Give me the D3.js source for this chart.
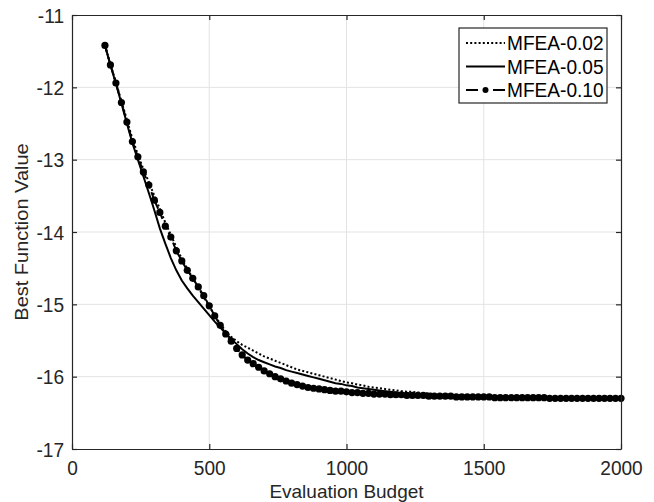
<!DOCTYPE html>
<html><head><meta charset="utf-8">
<script src="https://cdn.jsdelivr.net/npm/d3@7"></script>
<style>
body{margin:0;background:#fff}
svg{display:block}
</style></head><body>
<svg id="c" width="654" height="502"></svg>
<script>
// ---- data ----
const budget=[120,140,160,180,200,220,240,260,280,300,
320,340,360,380,400,420,440,460,480,500,
520,540,560,580,600,620,640,660,680,700,
720,740,760,780,800,820,840,860,880,900,
920,940,960,980,1000,1020,1040,1060,1080,1100,
1120,1140,1160,1180,1200,1220,1240,1260,1280,1300,
1320,1340,1360,1380,1400,1420,1440,1460,1480,1500,
1520,1540,1560,1580,1600,1620,1640,1660,1680,1700,
1720,1740,1760,1780,1800,1820,1840,1860,1880,1900,
1920,1940,1960,1980,2000];
const mfea002=[-11.42,-11.68,-11.93,-12.19,-12.45,-12.71,-12.93,-13.13,-13.31,-13.50,
-13.68,-13.87,-14.04,-14.21,-14.37,-14.51,-14.64,-14.77,-14.90,-15.03,
-15.15,-15.27,-15.37,-15.45,-15.51,-15.56,-15.60,-15.64,-15.68,-15.72,
-15.75,-15.78,-15.81,-15.84,-15.87,-15.90,-15.92,-15.94,-15.96,-15.98,
-16.00,-16.02,-16.04,-16.06,-16.08,-16.09,-16.11,-16.12,-16.14,-16.15,
-16.16,-16.17,-16.18,-16.19,-16.20,-16.21,-16.21,-16.22,-16.23,-16.23,
-16.24,-16.24,-16.25,-16.25,-16.26,-16.26,-16.26,-16.27,-16.27,-16.27,
-16.27,-16.28,-16.28,-16.28,-16.28,-16.28,-16.28,-16.29,-16.29,-16.29,
-16.29,-16.29,-16.29,-16.29,-16.29,-16.30,-16.30,-16.30,-16.30,-16.30,
-16.30,-16.30,-16.30,-16.30,-16.30];
const mfea005=[-11.42,-11.69,-11.95,-12.22,-12.50,-12.77,-13.00,-13.23,-13.46,-13.70,
-13.95,-14.16,-14.36,-14.53,-14.67,-14.78,-14.88,-14.97,-15.06,-15.15,
-15.24,-15.32,-15.40,-15.48,-15.55,-15.62,-15.68,-15.73,-15.77,-15.80,
-15.83,-15.86,-15.88,-15.91,-15.93,-15.95,-15.97,-15.99,-16.01,-16.03,
-16.05,-16.07,-16.09,-16.10,-16.12,-16.13,-16.15,-16.16,-16.17,-16.18,
-16.19,-16.20,-16.21,-16.22,-16.23,-16.23,-16.24,-16.24,-16.25,-16.25,
-16.26,-16.26,-16.26,-16.27,-16.27,-16.27,-16.27,-16.28,-16.28,-16.28,
-16.28,-16.28,-16.28,-16.29,-16.29,-16.29,-16.29,-16.29,-16.29,-16.29,
-16.29,-16.29,-16.30,-16.30,-16.30,-16.30,-16.30,-16.30,-16.30,-16.30,
-16.30,-16.30,-16.30,-16.30,-16.30];
const mfea010=[-11.42,-11.69,-11.94,-12.21,-12.48,-12.75,-12.96,-13.17,-13.35,-13.56,
-13.73,-13.92,-14.07,-14.26,-14.40,-14.53,-14.64,-14.76,-14.88,-15.02,
-15.16,-15.29,-15.41,-15.51,-15.61,-15.70,-15.77,-15.82,-15.87,-15.92,
-15.96,-16.00,-16.03,-16.06,-16.09,-16.11,-16.13,-16.15,-16.16,-16.17,
-16.18,-16.19,-16.20,-16.20,-16.21,-16.22,-16.22,-16.23,-16.23,-16.24,
-16.24,-16.24,-16.25,-16.25,-16.25,-16.26,-16.26,-16.26,-16.26,-16.27,
-16.27,-16.27,-16.27,-16.27,-16.28,-16.28,-16.28,-16.28,-16.28,-16.28,
-16.28,-16.29,-16.29,-16.29,-16.29,-16.29,-16.29,-16.29,-16.29,-16.29,
-16.29,-16.30,-16.30,-16.30,-16.30,-16.30,-16.30,-16.30,-16.30,-16.30,
-16.30,-16.30,-16.30,-16.30,-16.30];
const seriesNames=["MFEA-0.02","MFEA-0.05","MFEA-0.10"];
const xTicks=[0,500,1000,1500,2000];
const yTicks=[-17,-16,-15,-14,-13,-12,-11];
const xLabel="Evaluation Budget";
const yLabel="Best Function Value";

// ---- layout ----
const W=654,H=502;
const L=72,R=621,T=15,B=449;
const FONT='"Liberation Sans", Arial, Helvetica, sans-serif';
const FS=21, SX=0.91, INK="#262626";
const fmt=d=>String(d);

const svg=d3.select("#c");
svg.append("rect").attr("width",W).attr("height",H).attr("fill","#fff");

const x=d3.scaleLinear().domain([0,2000]).range([L,R]);
const y=d3.scaleLinear().domain([-17,-11]).range([B,T]);

// grid
const grid=svg.append("g");
grid.selectAll("line.gx").data(xTicks.slice(1,-1)).join("line")
  .attr("x1",d=>x(d)).attr("x2",d=>x(d)).attr("y1",T).attr("y2",B)
  .attr("stroke","#e3e3e3").attr("stroke-width",1);
grid.selectAll("line.gy").data(yTicks.slice(1,-1)).join("line")
  .attr("y1",d=>y(d)).attr("y2",d=>y(d)).attr("x1",L).attr("x2",R)
  .attr("stroke","#e3e3e3").attr("stroke-width",1);

// series
const pts=a=>budget.map((b,i)=>[b,a[i]]);
const line=d3.line().x(d=>x(d[0])).y(d=>y(d[1]));
const series=[
  {name:seriesNames[0],data:pts(mfea002),dash:"2,2.2",marker:false},
  {name:seriesNames[1],data:pts(mfea005),dash:null,marker:false},
  {name:seriesNames[2],data:pts(mfea010),dash:"7,4",marker:true}
];
series.forEach(s=>{
  svg.append("path").attr("d",line(s.data)).attr("fill","none")
    .attr("stroke","#000").attr("stroke-width",2)
    .attr("stroke-dasharray",s.dash);
  if(s.marker){
    svg.append("g").selectAll("circle").data(s.data).join("circle")
      .attr("cx",d=>x(d[0])).attr("cy",d=>y(d[1])).attr("r",3.6).attr("fill","#000");
  }
});

// axes
function styleAxis(g){
  g.attr("font-family",FONT).attr("font-size",FS);
  g.selectAll("path.domain").attr("stroke",INK).attr("stroke-width",1.2);
  g.selectAll(".tick line").attr("stroke",INK).attr("stroke-width",1.2);
  g.selectAll(".tick text").attr("fill",INK);
}
const xa=svg.append("g").attr("transform",`translate(0,${B})`)
  .call(d3.axisBottom(x).tickValues(xTicks).tickFormat(fmt)
    .tickSizeInner(-5).tickSizeOuter(0).tickPadding(11));
styleAxis(xa);
xa.selectAll(".tick text").attr("transform",`scale(${SX},1)`);

const ya=svg.append("g").attr("transform",`translate(${L},0)`)
  .call(d3.axisLeft(y).tickValues(yTicks).tickFormat(fmt)
    .tickSizeInner(-5).tickSizeOuter(0).tickPadding(8/SX));
styleAxis(ya);
ya.selectAll(".tick text").attr("transform",`scale(${SX},1)`).attr("dy","0.34em");

const xt=svg.append("g").attr("transform",`translate(0,${T})`)
  .call(d3.axisTop(x).tickValues(xTicks).tickFormat("").tickSizeInner(-5).tickSizeOuter(0));
styleAxis(xt);
const yr=svg.append("g").attr("transform",`translate(${R},0)`)
  .call(d3.axisRight(y).tickValues(yTicks).tickFormat("").tickSizeInner(-5).tickSizeOuter(0));
styleAxis(yr);

// axis labels
svg.append("text").attr("x",(L+R)/2).attr("y",498)
  .attr("text-anchor","middle").attr("font-family",FONT).attr("font-size",19)
  .attr("fill",INK).text(xLabel);
svg.append("text").attr("transform",`translate(28,${(T+B)/2}) rotate(-90) scale(1,${SX})`)
  .attr("text-anchor","middle").attr("font-family",FONT).attr("font-size",FS-1)
  .attr("fill",INK).text(yLabel);

// legend
const lg=svg.append("g");
lg.append("rect").attr("x",459).attr("y",28).attr("width",148).attr("height",75)
  .attr("fill","#fff").attr("stroke",INK).attr("stroke-width",1.2);
const rowsY=[43,66.5,90];
series.forEach((s,i)=>{
  const yy=rowsY[i];
  lg.append("line").attr("x1",466).attr("x2",505).attr("y1",yy).attr("y2",yy)
    .attr("stroke","#000").attr("stroke-width",2)
    .attr("stroke-dasharray",s.marker?"12,15":s.dash);
  if(s.marker) lg.append("circle").attr("cx",485.5).attr("cy",yy).attr("r",3).attr("fill","#000");
  lg.append("text").attr("transform",`translate(507,${yy+7}) scale(${SX},1)`)
    .attr("font-family",FONT).attr("font-size",FS).attr("fill","#000").text(s.name);
});
</script>
</body></html>
